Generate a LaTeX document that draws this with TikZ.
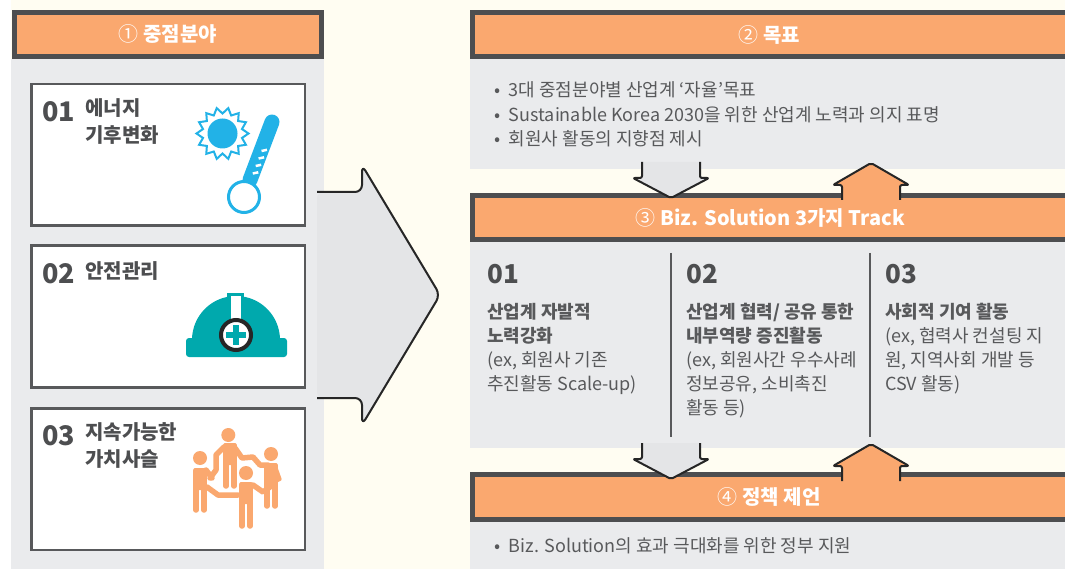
\documentclass[tikz,border=0pt]{standalone}
\usepackage{fontspec}
\setmainfont{Noto Sans CJK KR}
\definecolor{cream}{HTML}{FFFDF2}
\definecolor{panelgrey}{HTML}{EAEBED}
\definecolor{arrowgrey}{HTML}{E4E5E7}
\definecolor{headorange}{HTML}{FAA86F}
\definecolor{darkline}{HTML}{4D4E50}
\definecolor{textgrey}{HTML}{58595B}
\definecolor{skyblue}{HTML}{22B2E7}
\definecolor{helmetteal}{HTML}{00A9AD}
\begin{document}
\begin{tikzpicture}[
        x=1pt, y=-1pt,
        header/.style={draw=darkline, line width=5pt, fill=headorange, text=white, inner sep=0pt, font=\fontsize{20}{24}\selectfont\bfseries},% orange title bar
        panel/.style={fill=panelgrey},% grey area under a title bar
        itembox/.style={draw=textgrey, line width=2.5pt, fill=white, minimum width=273.5pt, minimum height=141.5pt, inner sep=0pt},% white box on the left
        itemnum/.style={anchor=west, inner sep=0pt, text=darkline, font=\fontsize{27}{30}\selectfont\bfseries},
        itemtext/.style={anchor=north west, align=left, inner sep=0pt, text=darkline, font=\fontsize{20}{27.5}\selectfont\bfseries},
        bullettext/.style={anchor=north west, align=left, inner sep=0pt, text=textgrey, font=\fontsize{18}{24.5}\selectfont},
        tracknum/.style={anchor=west, inner sep=0pt, text=darkline, font=\fontsize{26}{30}\selectfont\bfseries},
        tracktext/.style={anchor=north west, align=left, inner sep=0pt, text=textgrey, font=\fontsize{18}{24}\selectfont},
        outline/.style={draw=black!85, line width=2pt, line join=round, rounded corners=2pt},
        person/.style={draw=headorange, line width=5.5pt, line cap=round, line join=round},
    ]
    \useasboundingbox (0,0) rectangle (1065,569);
    \fill[cream] (11,0) rectangle (1065,569);

    % panels
    \fill[panel] (11,59) rectangle (324,569);
    \fill[panel] (470,59) rectangle (1065,169);
    \fill[panel] (470,242) rectangle (1065,448);
    \fill[panel] (470,522) rectangle (1065,569);

    % title bars
    \node[header, minimum width=307.5pt, minimum height=44pt] (focus) at (167.75,34.5) {{\mdseries ①} 중점분야};
    \node[header, minimum width=597.5pt, minimum height=44pt] (goal) at (771.25,34.5) {\hspace{-4pt}{\mdseries ②} 목표};
    \node[header, minimum width=597.5pt, minimum height=44pt] (track) at (771.25,217.5) {\hspace{-2pt}{\mdseries ③} Biz. Solution 3가지 Track};
    \node[header, minimum width=597.5pt, minimum height=45pt] (policy) at (771.25,497) {\hspace{-4pt}{\mdseries ④} 정책 제언};

    % big arrow
    \coordinate (bigtip) at (440,295);
    \fill[arrowgrey, rounded corners=6pt] (317,192) -- (362,192) -- (362,165) -- (bigtip) -- (362,425) -- (362,398) -- (317,398) -- cycle;
    \draw[outline, rounded corners=7pt] (317,192) -- (362,192) -- (362,165) -- (bigtip) -- (362,425) -- (362,398) -- (317,398);

    % arrows between the panels
    \foreach \tip/\top in {671/198, 671/479} {
        \fill[arrowgrey] (\tip-29,\top-36) -- (\tip-29,\top-20) -- (\tip-38,\top-20) -- (\tip,\top) -- (\tip+38,\top-20) -- (\tip+29,\top-20) -- (\tip+29,\top-36) -- cycle;
        \draw[outline] (\tip-29,\top-36) -- (\tip-29,\top-20) -- (\tip-38,\top-20) -- (\tip,\top) -- (\tip+38,\top-20) -- (\tip+29,\top-20) -- (\tip+29,\top-36);
    }
    \foreach \tip/\top in {871/163, 871/444} {
        \fill[headorange] (\tip-29,\top+37) -- (\tip-29,\top+22) -- (\tip-38,\top+22) -- (\tip,\top) -- (\tip+38,\top+22) -- (\tip+29,\top+22) -- (\tip+29,\top+37) -- cycle;
        \draw[outline] (\tip-29,\top+37) -- (\tip-29,\top+22) -- (\tip-38,\top+22) -- (\tip,\top) -- (\tip+38,\top+22) -- (\tip+29,\top+22) -- (\tip+29,\top+37);
    }

    % left boxes
    \node[itembox] (energy) at (168,155) {};
    \node[itembox] (safety) at (168,316.5) {};
    \node[itembox] (value) at (168,479) {};
    \node[itemnum] (energynum) at (42,112) {01};
    \node[itemnum] (safetynum) at (42,274) {02};
    \node[itemnum] (valuenum) at (42,436) {03};
    \node[itemtext] (energytext) at (85,98) {에너지\\기후변화};
    \node[itemtext] (safetytext) at (85,261) {안전관리};
    \node[itemtext] (valuetext) at (85,422) {지속가능한\\가치사슬};

    % sun and thermometer
    \fill[skyblue] (222.5,133.5) circle (15);
    \draw[skyblue, line width=2pt, line join=miter, shift={(222.5,133.5)}]
        (0:26) \foreach \a in {1,...,14} { -- ({\a*360/14-180/14}:20) -- ({\a*360/14}:26) } -- cycle;
    \draw[skyblue, line width=15pt, line cap=round] (272,122) -- (250,180);
    \draw[skyblue, line width=3pt, fill=white] (244,197) circle (15.5);
    \foreach \p in {0,...,3} {
        \draw[white, line width=2.5pt] (261.5-\p*2.9,151+\p*7.5) -- ++(5.5,-1.2);
    }

    % helmet
    \fill[helmetteal] (192,340) arc[start angle=180, end angle=360, radius=44] -- cycle;
    \fill[helmetteal, rounded corners=3pt] (186,338) rectangle (287,357);
    \fill[helmetteal] (227,293) rectangle (244,305);
    \fill[white] (231,296) rectangle (241,322);
    \draw[black!85, line width=4pt, fill=white] (236,335) circle (15);
    \fill[helmetteal] (233,325) rectangle (239,345);
    \fill[helmetteal] (226,332) rectangle (246,338);

    % people
    \foreach \hx/\hy in {228.3/435, 200/458, 271/454, 246/473} {
        \fill[headorange] (\hx,\hy) circle (7);
    }
    \foreach \lx/\ly/\ty in {226/443/486, 196/468/510, 267/463/506, 242/482/526} {
        \draw[person] (\lx,\ly+3) -- (\lx,\ty);
        \draw[person] (\lx+8,\ly+3) -- (\lx+8,\ty);
        \fill[headorange, rounded corners=2pt] (\lx-2.75,\ly) rectangle (\lx+10.75,\ly+22);
    }
    \fill[headorange, rounded corners=1pt] (276,463) -- (282,480) -- (272,485) -- cycle;
    \draw[person] (224,447) -- (216,455) -- (216,470) -- (210,478);
    \draw[person] (235,448) -- (242,458) -- (253,457) -- (260,465) -- (268,465);
    \draw[person] (207,487) -- (218,495) -- (238,495);
    \draw[person] (253,485) -- (263,492) -- (270,487);
    \draw[person] (206,470) -- (212,478);

    % goal texts
    \node[bullettext] (goaltext) at (494,81.5) {•\hspace{8.5pt}3대 중점분야별 산업계 ‘자율’목표\\•\hspace{8.5pt}Sustainable Korea 2030을 위한 산업계 노력과 의지 표명\\•\hspace{8.5pt}회원사 활동의 지향점 제시};
    \node[bullettext] (policytext) at (494,537) {•\hspace{8.5pt}Biz. Solution의 효과 극대화를 위한 정부 지원};

    % tracks
    \draw[textgrey, line width=1.5pt] (671,253) -- (671,437);
    \draw[textgrey, line width=1.5pt] (870,253) -- (870,437);
    \node[tracknum] (trackA) at (487,274) {01};
    \node[tracknum] (trackB) at (686,274) {02};
    \node[tracknum] (trackC) at (885,274) {03};
    \node[tracktext] (trackAtext) at (487,303) {\textbf{산업계 자발적}\\\textbf{노력강화}\\(ex, 회원사 기존\\추진활동 Scale-up)};
    \node[tracktext] (trackBtext) at (686,303) {\textbf{산업계 협력/ 공유 통한}\\\textbf{내부역량 증진활동}\\(ex, 회원사간 우수사례\\정보공유, 소비촉진\\활동 등)};
    \node[tracktext] (trackCtext) at (885,303) {\textbf{사회적 기여 활동}\\(ex, 협력사 컨설팅 지\\원, 지역사회 개발 등\\CSV 활동)};
\end{tikzpicture}
\end{document}
